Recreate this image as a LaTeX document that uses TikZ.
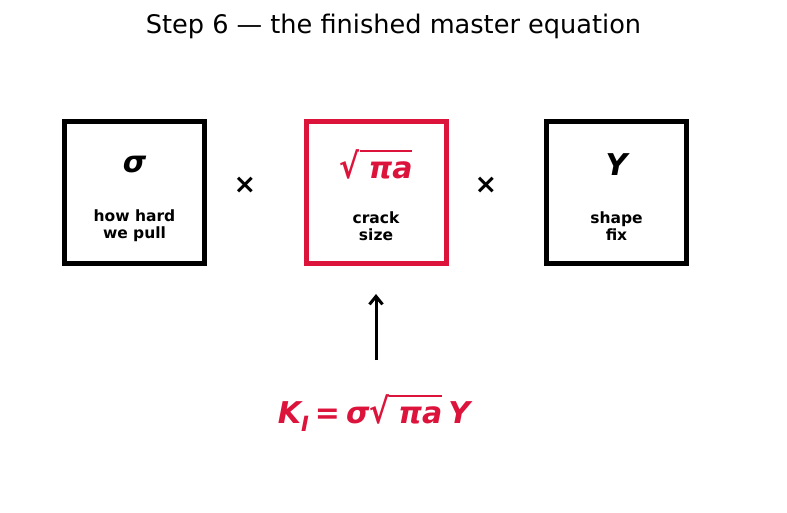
\documentclass[tikz,border=0pt]{standalone}
\usepackage{fontspec}
\usepackage{graphicx}
\setmainfont{DejaVu Sans}
\usetikzlibrary{arrows.meta,positioning}
\definecolor{crackred}{HTML}{DC143C}
% root sign with a bar over its argument
\newcommand{\rootbar}[1]{\scalebox{1}[1.15]{√}\setbox0\hbox{\hspace{0.3em}#1}\rlap{\rule[0.90em]{\wd0}{0.06em}}\box0}
\tikzset{
	termbox/.style={draw, line width=5pt, minimum width=140pt, minimum height=142pt, inner sep=0pt},
	symtext/.style={font=\fontsize{30}{30}\selectfont\bfseries\itshape},
	labtext/.style={font=\fontsize{15.5}{17}\selectfont\bfseries, align=center},
	timestext/.style={font=\fontsize{27}{27}\selectfont\bfseries},
}
\begin{document}
\begin{tikzpicture}[x=1pt,y=1pt]
	\useasboundingbox (0,0) rectangle (787,512);
	\node[font=\fontsize{25.6}{26}\selectfont] (title) at (393.5,486) {Step 6 — the finished master equation};
	% the three factors
	\node[termbox] (stress) at (134.5,319.5) {};
	\node[termbox, draw=crackred] (crack) at (376,319.5) {};
	\node[termbox] (shape) at (616.5,319.5) {};
	\node[symtext] (stresssym) at ([yshift=27.5pt]stress.center) {σ};
	\node[symtext, text=crackred] (cracksym) at ([yshift=28pt]crack.center) {\rootbar{πa}};
	\node[symtext] (shapesym) at ([yshift=27.5pt]shape.center) {Y};
	\node[labtext] (stresslab) at ([yshift=-33.5pt]stress.center) {how hard\\we pull};
	\node[labtext] (cracklab) at ([yshift=-33.5pt]crack.center) {crack\\size};
	\node[labtext] (shapelab) at ([yshift=-33.5pt]shape.center) {shape\\fix};
	\node[timestext] (timesa) at (245,327) {×};
	\node[timestext] (timesb) at (486,327) {×};
	% result
	\node[symtext, text=crackred] (result) at (374,99) {K\raisebox{-0.25em}{\fontsize{21}{21}\selectfont I}\hspace{0.2em}=\hspace{0.2em}σ\rootbar{πa}\hspace{0.2em}Y};
	\coordinate (armfoot) at (376,152);
	\draw[-{Straight Barb[length=8pt,width=13pt]}, line width=3pt] (armfoot) -- ([yshift=-28pt]crack.south);
\end{tikzpicture}
\end{document}
